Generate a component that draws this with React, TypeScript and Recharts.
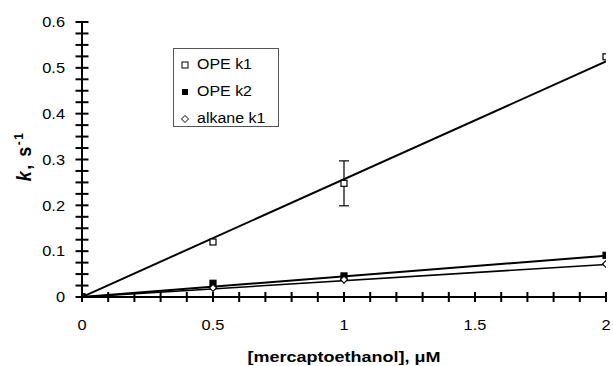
import React from 'react';
import { ComposedChart, Line, Scatter, XAxis, YAxis, ErrorBar } from 'recharts';

const seriesNames = ['OPE k1', 'OPE k2', 'alkane k1'];
const concentrations = [0, 0.5, 1, 2];
const opeK1 = [0, 0.12, 0.248, 0.524];
const opeK1Err: (number | null)[] = [null, null, 0.049, null];
const opeK2 = [0, 0.03, 0.046, 0.091];
const alkaneK1 = [0, 0.02, 0.038, 0.072];

const fitX = [0, 2];
const opeK1Fit = [0, 0.514];
const opeK2Fit = [0, 0.09];
const alkaneK1Fit = [0, 0.071];

const xMajorTicks = [0, 0.5, 1, 1.5, 2];
const yMajorTicks = [0, 0.1, 0.2, 0.3, 0.4, 0.5, 0.6];
const xMinorStep = 0.1;
const yMinorStep = 0.025;

const FONT = '"Liberation Sans", Arial, sans-serif';
const SX = 1.13;

const buildTicks = (max: number, step: number) => {
  const n = Math.round(max / step);
  const out: number[] = [];
  for (let i = 0; i <= n; i++) out.push(+(i * step).toFixed(4));
  return out;
};
const xTicks = buildTicks(2, xMinorStep);
const yTicks = buildTicks(0.6, yMinorStep);
const isMajor = (v: number, majors: number[]) => majors.some((m) => Math.abs(m - v) < 1e-6);

const toPoints = (ys: number[], errs?: (number | null)[]) =>
  concentrations.map((x, i) => {
    const p: any = { x, y: ys[i] };
    if (errs && errs[i] != null) p.err = errs[i];
    return p;
  });
const toFit = (ys: number[]) => fitX.map((x, i) => ({ x, y: ys[i] }));

const k1Data = toPoints(opeK1, opeK1Err);
const k2Data = toPoints(opeK2);
const alkData = toPoints(alkaneK1);

const XTick = (props: any) => {
  const { x, y, payload } = props;
  const v = payload.value;
  return (
    <g>
      <line x1={x} x2={x} y1={y - 5} y2={y + 5} stroke="#000" strokeWidth={2} />
      {isMajor(v, xMajorTicks) && (
        <text
          transform={`translate(${x},${y + 33}) scale(${SX},1)`}
          x={0}
          y={0}
          textAnchor="middle"
          fontFamily={FONT}
          fontSize={14.5}
          fill="#000"
        >
          {String(v)}
        </text>
      )}
    </g>
  );
};

const YTick = (props: any) => {
  const { x, y, payload } = props;
  const v = payload.value;
  return (
    <g>
      <line x1={x - 6.5} x2={x + 6.5} y1={y} y2={y} stroke="#000" strokeWidth={2} />
      {isMajor(v, yMajorTicks) && (
        <text
          transform={`translate(${x - 17},${y + 5.3}) scale(${SX},1)`}
          x={0}
          y={0}
          textAnchor="end"
          fontFamily={FONT}
          fontSize={14.5}
          fill="#000"
        >
          {String(+v.toFixed(1))}
        </text>
      )}
    </g>
  );
};

const OpenSquare = (p: any) => (
  <rect x={p.cx - 3} y={p.cy - 3} width={6} height={6} fill="#fff" stroke="#000" strokeWidth={1.2} />
);
const FilledSquare = (p: any) => (
  <rect x={p.cx - 3} y={p.cy - 3} width={6} height={6} fill="#000" stroke="#000" strokeWidth={1.2} />
);
const Diamond = (p: any) => (
  <polygon
    points={`${p.cx},${p.cy - 3.5} ${p.cx + 3.5},${p.cy} ${p.cx},${p.cy + 3.5} ${p.cx - 3.5},${p.cy}`}
    fill="#fff"
    stroke="#000"
    strokeWidth={1.2}
  />
);

const legendIcons = [
  <svg width={8} height={8} key="a"><rect x={1} y={1} width={6} height={6} fill="#fff" stroke="#000" strokeWidth={1} /></svg>,
  <svg width={8} height={8} key="b"><rect x={1} y={1} width={6} height={6} fill="#000" /></svg>,
  <svg width={8} height={8} key="c"><polygon points="4,0.5 7.5,4 4,7.5 0.5,4" fill="#fff" stroke="#000" strokeWidth={1} /></svg>,
];

export default function App() {
  return (
    <div style={{ position: 'absolute', left: 0, top: 0, width: 613, height: 366, background: '#fff' }}>
      <ComposedChart width={613} height={366} margin={{ top: 22, right: 7, bottom: 0, left: 0 }}>
        <XAxis
          type="number"
          dataKey="x"
          domain={[0, 2]}
          ticks={xTicks}
          interval={0}
          tickSize={0}
          tickMargin={0}
          tickLine={false}
          tick={<XTick />}
          axisLine={{ stroke: '#000', strokeWidth: 2 }}
          height={69}
          allowDataOverflow
          label={{
            content: (lp: any) => {
              const vb = lp.viewBox || {};
              const cx = vb.x + vb.width / 2;
              return (
                <text
                  transform={`translate(${cx},362) scale(1.2,1)`}
                  x={0}
                  y={0}
                  textAnchor="middle"
                  fontFamily={FONT}
                  fontWeight="bold"
                  fontSize={15}
                  fill="#000"
                >
                  [mercaptoethanol], μM
                </text>
              );
            },
          }}
        />
        <YAxis
          type="number"
          dataKey="y"
          domain={[0, 0.6]}
          ticks={yTicks}
          interval={0}
          tickSize={0}
          tickMargin={0}
          tickLine={false}
          tick={<YTick />}
          axisLine={{ stroke: '#000', strokeWidth: 2 }}
          width={82}
          allowDataOverflow
          label={{
            content: () => {
              const cy = 156.5;
              const cx = 31;
              return (
                <text
                  transform={`translate(${cx},${cy}) scale(1.12,1) rotate(-90)`}
                  x={0}
                  y={0}
                  textAnchor="middle"
                  fontFamily={FONT}
                  fontWeight="bold"
                  fontSize={18}
                  letterSpacing={1.5}
                  fill="#000"
                >
                  <tspan fontStyle="italic">k</tspan>
                  <tspan>, s</tspan>
                  <tspan dy={-7} fontSize={12}>-1</tspan>
                </text>
              );
            },
          }}
        />
        <Line data={toFit(opeK1Fit)} dataKey="y" type="linear" stroke="#000" strokeWidth={2} dot={false} isAnimationActive={false} />
        <Line data={toFit(opeK2Fit)} dataKey="y" type="linear" stroke="#000" strokeWidth={2} dot={false} isAnimationActive={false} />
        <Line data={toFit(alkaneK1Fit)} dataKey="y" type="linear" stroke="#000" strokeWidth={1.6} dot={false} isAnimationActive={false} />
        <Scatter data={k1Data} dataKey="y" name={seriesNames[0]} shape={<OpenSquare />} isAnimationActive={false}>
          <ErrorBar dataKey="err" direction="y" width={5} stroke="#000" strokeWidth={1.2} isAnimationActive={false} />
        </Scatter>
        <Scatter data={k2Data} dataKey="y" name={seriesNames[1]} shape={<FilledSquare />} isAnimationActive={false} />
        <Scatter data={alkData} dataKey="y" name={seriesNames[2]} shape={<Diamond />} isAnimationActive={false} />
      </ComposedChart>
      <div
        style={{
          position: 'absolute',
          left: 173,
          top: 48,
          width: 106,
          height: 79,
          boxSizing: 'border-box',
          border: '1px solid #555',
          background: '#fff',
          paddingTop: 2,
          fontFamily: FONT,
          fontSize: 14,
          color: '#000',
        }}
      >
        {seriesNames.map((name, i) => (
          <div key={name} style={{ height: 27, position: 'relative' }}>
            <div style={{ position: 'absolute', left: 7, top: 9.5, width: 8, height: 8, lineHeight: 0 }}>{legendIcons[i]}</div>
            <span
              style={{
                position: 'absolute',
                left: 23,
                top: 5,
                lineHeight: '16px',
                whiteSpace: 'nowrap',
                transform: 'scaleX(1.14)',
                transformOrigin: 'left center',
              }}
            >
              {name}
            </span>
          </div>
        ))}
      </div>
    </div>
  );
}
